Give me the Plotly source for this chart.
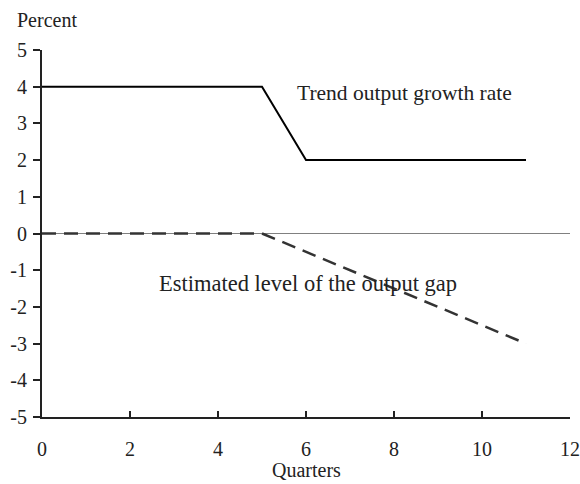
import plotly.graph_objects as go

quarters_trend = [0, 5, 6, 11]
trend_growth = [4, 4, 2, 2]
quarters_gap = [0, 5, 11]
output_gap = [0, 0, -3]
x_ticks = [0, 2, 4, 6, 8, 10, 12]
y_ticks = [-5, -4, -3, -2, -1, 0, 1, 2, 3, 4, 5]
y_tick_labels = ["-5", "-4", "-3", "-2", "-1", "0", "1", "2", "3", "4", "5"]

FONT = "Liberation Serif"

fig = go.Figure()
fig.add_trace(go.Scatter(x=quarters_trend, y=trend_growth, mode="lines",
                         line=dict(color="black", width=2), showlegend=False))
fig.add_trace(go.Scatter(x=quarters_gap, y=output_gap, mode="lines",
                         line=dict(color="#333333", width=2.5, dash="14px,8px"),
                         showlegend=False))

fig.update_layout(
    width=580, height=484,
    margin=dict(l=42, r=10, t=50, b=67),
    paper_bgcolor="white", plot_bgcolor="white",
    font=dict(family=FONT, size=20, color="#222222"),
    xaxis=dict(range=[0, 12], tickvals=x_ticks, showgrid=False, zeroline=False,
               automargin=False,
               showline=True, linecolor="#222222", linewidth=2,
               ticks="inside", ticklen=6, tickwidth=2, tickcolor="#222222",
               ticklabelstandoff=13),
    yaxis=dict(range=[-5, 5], tickvals=y_ticks, ticktext=y_tick_labels,
               showgrid=False, automargin=False,
               zeroline=True, zerolinecolor="#808080", zerolinewidth=1.2,
               showline=True, linecolor="#222222", linewidth=2,
               ticks="outside", ticklen=7, tickwidth=2, tickcolor="#222222",
               ticklabelstandoff=2),
    annotations=[
        dict(text="Percent", xref="paper", yref="paper", x=-0.052, y=1.082,
             xanchor="left", yanchor="middle", showarrow=False,
             font=dict(size=20)),
        dict(text="Quarters", xref="paper", yref="paper", x=0.5, y=-0.144,
             xanchor="center", yanchor="middle", showarrow=False,
             font=dict(size=20)),
        dict(text="Trend output growth rate", xref="x", yref="y", x=5.75, y=3.83,
             xanchor="left", yanchor="middle", showarrow=False,
             font=dict(size=21.5)),
        dict(text="Estimated level of the output gap", xref="x", yref="y", x=2.61, y=-1.35,
             xanchor="left", yanchor="middle", showarrow=False,
             font=dict(size=22.5)),
    ],
)

fig.write_html("out.html",
               config={"displayModeBar": False},
               post_script="document.body.style.margin='0px';document.body.style.overflow='hidden';")
